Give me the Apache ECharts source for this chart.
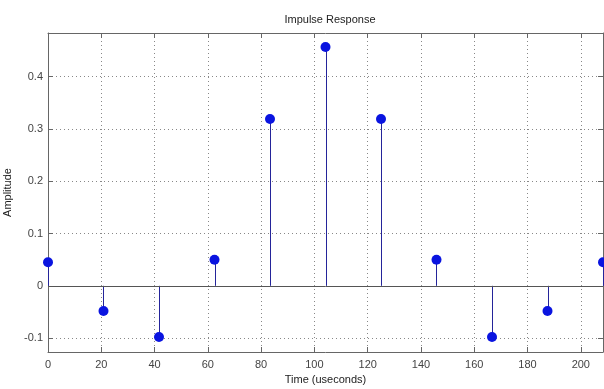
<!DOCTYPE html>
<html>
<head>
<meta charset="utf-8"/>
<title>Impulse Response</title>
<script type="text/javascript" src="https://cdn.jsdelivr.net/npm/echarts@6/dist/echarts.min.js"></script>
<style type="text/css">
	body { margin: 0; padding: 0; background: #fff; }
	#chart { width: 604px; height: 389px; }
</style>
</head>
<body>
	<div id="chart"></div>
<script type="text/javascript">
	// impulse response samples (time in useconds, amplitude)
	var timeUs = [0, 20.83, 41.67, 62.5, 83.33, 104.17, 125, 145.83, 166.67, 187.5, 208.33];
	var amplitude = [0.045, -0.048, -0.098, 0.05, 0.319, 0.457, 0.319, 0.05, -0.098, -0.048, 0.045];
	var xTicks = [0, 20, 40, 60, 80, 100, 120, 140, 160, 180, 200];

	var points = [];
	for (var i = 0; i < timeUs.length; i++) {
		points.push([timeUs[i], amplitude[i]]);
	}

	var fontName = 'Liberation Sans';
	var myChart = echarts.init(document.getElementById('chart'));

	var frameAxis = {
		axisLine: { show: true, onZero: false, lineStyle: { color: '#666', width: 1 } },
		axisTick: { show: true, inside: true, length: 5, lineStyle: { color: '#666' } },
		axisLabel: { show: false },
		splitLine: { show: false }
	};

	var option = {
		animation: false,
		backgroundColor: '#fff',
		title: {
			text: 'Impulse Response',
			left: 325,
			textAlign: 'center',
			top: 9,
			textStyle: { fontFamily: fontName, fontSize: 11, fontWeight: 'normal', color: '#222' }
		},
		grid: { left: 48, top: 33, right: 1, bottom: 37, containLabel: false, outerBoundsMode: 'none' },
		xAxis: [
			{
				type: 'value',
				min: 0,
				max: 208.33,
				interval: 20,
				name: 'Time (useconds)',
				nameLocation: 'middle',
				nameGap: 21,
				nameTextStyle: { fontFamily: fontName, fontSize: 11, color: '#222' },
				axisLine: { onZero: false, lineStyle: { color: '#666' } },
				axisTick: { inside: true, length: 5, lineStyle: { color: '#666' } },
				axisLabel: {
					showMaxLabel: false,
					margin: 7,
					fontFamily: fontName, fontSize: 11, color: '#444',
					formatter: function (v) { return xTicks.indexOf(v) >= 0 ? v : ''; }
				},
				splitLine: { show: true, lineStyle: { type: [1, 3], color: '#888' } }
			},
			echarts.util.extend({ type: 'value', position: 'top', min: 0, max: 208.33, interval: 20 }, frameAxis)
		],
		yAxis: [
			{
				type: 'value',
				min: -0.1266,
				max: 0.4837,
				splitNumber: 6,
				name: 'Amplitude',
				nameLocation: 'middle',
				nameRotate: 90,
				nameGap: 31,
				nameTextStyle: { fontFamily: fontName, fontSize: 11, color: '#222' },
				axisLine: { show: true, onZero: false, lineStyle: { color: '#666' } },
				axisTick: { inside: true, length: 5, lineStyle: { color: '#666' } },
				axisLabel: {
					showMinLabel: false,
					showMaxLabel: false,
					margin: 5,
					fontFamily: fontName, fontSize: 11, color: '#444'
				},
				splitLine: { show: true, lineStyle: { type: [1, 3], color: '#888' } }
			},
			echarts.util.extend({ type: 'value', position: 'right', min: -0.1266, max: 0.4837, splitNumber: 6 }, frameAxis)
		],
		series: [
			{
				name: 'stem',
				type: 'custom',
				z: 3,
				data: points,
				renderItem: function (params, api) {
					var base = api.coord([api.value(0), 0]);
					var tip = api.coord([api.value(0), api.value(1)]);
					// snap to pixel so each stem is a crisp 1px line
					var px = Math.round(base[0]) + 0.5;
					return {
						type: 'line',
						shape: { x1: px, y1: base[1], x2: px, y2: tip[1] },
						style: { stroke: '#24249a', lineWidth: 1 }
					};
				},
				markLine: {
					silent: true,
					symbol: 'none',
					label: { show: false },
					lineStyle: { color: '#555', type: 'solid', width: 1 },
					data: [{ yAxis: 0 }]
				}
			},
			{
				name: 'sample',
				type: 'scatter',
				z: 4,
				symbol: 'circle',
				symbolSize: 10,
				itemStyle: { color: '#0a14e0', opacity: 1 },
				data: points
			}
		]
	};
	myChart.setOption(option);
</script>
</body>
</html>
